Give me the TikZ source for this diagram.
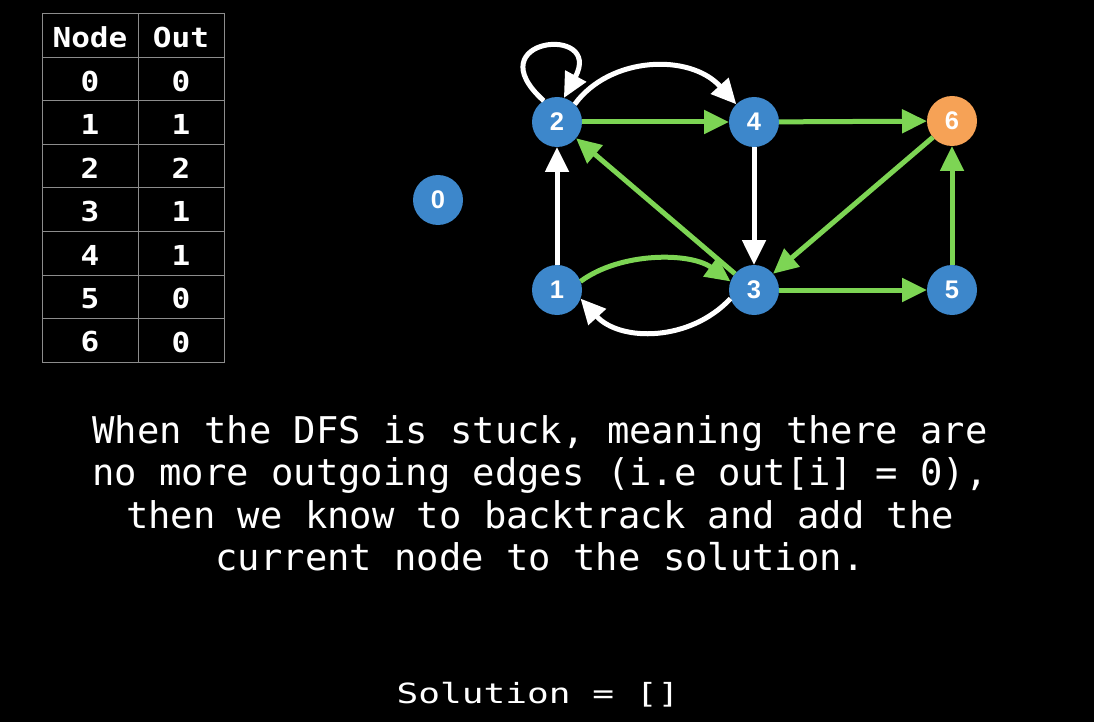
\documentclass[tikz,border=0pt]{standalone}
\usepackage{fontspec}
\usetikzlibrary{arrows.meta}
\newfontfamily\bodyfont[FakeStretch=1.01]{DejaVu Sans Mono}
\newfontfamily\solfont[FakeStretch=1.3]{DejaVu Sans Mono}
\newfontfamily\tabfont[FakeStretch=1.13]{DejaVu Sans Mono}
\newfontfamily\labfont{Liberation Sans}
\definecolor{nblue}{HTML}{3D87CB}
\definecolor{norange}{HTML}{F6A256}
\definecolor{egreen}{HTML}{7DD554}
\definecolor{tgray}{HTML}{8C8C8C}
\begin{document}
\begin{tikzpicture}[x=1pt,y=-1pt,
  vert/.style={circle,fill=nblue,minimum size=50pt,inner sep=0pt,outer sep=0pt,text=white,font=\labfont\bfseries\fontsize{25.5}{25.5}\selectfont},
  hot/.style={vert,fill=norange},
  gedge/.style={draw=egreen,line width=5pt,-{Triangle[length=25pt,width=23pt]}},
  wedge/.style={draw=white,line width=5pt,-{Triangle[length=25pt,width=23pt]}},
  cell/.style={text=white,font=\tabfont\bfseries\fontsize{27.5}{27.5}\selectfont},
  body/.style={text=white,font=\bodyfont\fontsize{36.8}{36.8}\selectfont,anchor=base},
  sol/.style={text=white,font=\solfont\fontsize{27.8}{27.8}\selectfont,anchor=base},
  grid/.style={draw=tgray,line width=1pt}
]
\fill[black] (0,0) rectangle (1094,722);
\useasboundingbox (0,0) rectangle (1094,722);

% table
\draw[grid] (42,14) rectangle (224,362);
\draw[grid] (138,14) -- (138,362);
\foreach \k in {1,...,7} \draw[grid] (42,{14+43.5*\k}) -- (224,{14+43.5*\k});
\node[cell] (hnode) at (90,37) {Node};
\node[cell] (hout) at (181,37) {Out};
\foreach \n/\o [count=\i from 0] in {0/0,1/1,2/2,3/1,4/1,5/0,6/0} {
  \node[cell] (a\i) at (90,{81+43.5*\i}) {\n};
  \node[cell] (b\i) at (181,{81+43.5*\i}) {\o};
}

% graph nodes
\node[vert] (n0) at (438,200) {0};
\node[vert] (n2) at (557,122) {2};
\node[vert] (n4) at (754,122) {4};
\node[hot]  (n6) at (952,121) {6};
\node[vert] (n1) at (557,290) {1};
\node[vert] (n3) at (754,290) {3};
\node[vert] (n5) at (952,290) {5};

% edges
\draw[wedge] (n2.122) .. controls (474,38) and (604,24) .. (n2.74);
\draw[wedge] (n2.45) .. controls (610,56) and (690,53) .. (n4.135);
\draw[gedge] (n2) -- (n4);
\draw[gedge] (n4) -- (n6);
\draw[wedge] (n4) -- (n3);
\draw[gedge] (n6) -- (n3);
\draw[gedge] (n3) -- (n2);
\draw[wedge] (n1) -- (n2);
\draw[gedge] (n1.20) .. controls (620,252) and (690,252) .. (n3.160);
\draw[wedge] (n3.200) .. controls (690,342) and (620,342) .. (n1.340);
\draw[gedge] (n3) -- (n5);
\draw[gedge] (n5) -- (n6);

% text
\node[body] (t1) at (540,443) {When the DFS is stuck, meaning there are};
\node[body] (t2) at (540,485.5) {no more outgoing edges (i.e out[i] = 0),};
\node[body] (t3) at (540,528) {then we know to backtrack and add the};
\node[body] (t4) at (540,570) {current node to the solution.};
\node[sol] (s) at (538,703.5) {Solution = []};
\end{tikzpicture}
\end{document}
